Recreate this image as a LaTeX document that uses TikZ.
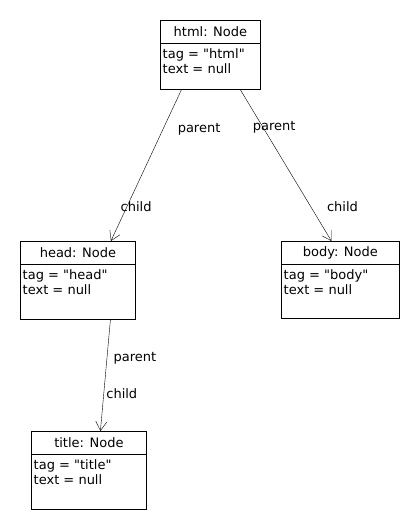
\documentclass[tikz,border=0pt]{standalone}
\usepackage{fontspec}
\setmainfont{DejaVu Sans}[Ligatures=TeXOff]
\usetikzlibrary{arrows.meta,positioning}

\begin{document}
\begin{tikzpicture}[x=1pt, y=-1pt,
  font=\fontsize{13}{14.5}\selectfont,
  objbox/.style={draw, line width=0.8pt, anchor=north west, inner sep=0pt},
  objhead/.style={draw, line width=0.8pt, minimum height=23pt,
                  anchor=north, inner sep=0pt},
  objattr/.style={anchor=north west, align=left, inner xsep=2.5pt,
                  inner ysep=5pt},
  lbl/.style={inner sep=1pt},
  >={Straight Barb[length=9pt,width=11pt]}]
\useasboundingbox (0,0) rectangle (420,530);
% objects
\node[objbox, minimum width=100pt, minimum height=69pt] (html) at (160,20) {};
\node[objhead, minimum width=100pt] (html-head) at (html.north) {html: Node};
\node[objattr] (html-attr) at (html-head.south west) {tag = "html"\\text = null};

\node[objbox, minimum width=115pt, minimum height=78pt] (head) at (20,241) {};
\node[objhead, minimum width=115pt] (head-head) at (head.north) {head: Node};
\node[objattr] (head-attr) at (head-head.south west) {tag = "head"\\text = null};

\node[objbox, minimum width=118pt, minimum height=77pt] (body) at (281,241) {};
\node[objhead, minimum width=118pt] (body-head) at (body.north) {body: Node};
\node[objattr] (body-attr) at (body-head.south west) {tag = "body"\\text = null};

\node[objbox, minimum width=115pt, minimum height=78pt] (title) at (31,431) {};
\node[objhead, minimum width=115pt] (title-head) at (title.north) {title: Node};
\node[objattr] (title-attr) at (title-head.south west) {tag = "title"\\text = null};
% links
\draw[->] ([xshift=-29pt]html.south) -- ([xshift=33pt]head.north)
  node[lbl, pos=0.26, xshift=36pt] {parent}
  node[lbl, pos=0.77, xshift=9pt] {child};
\draw[->] ([xshift=30pt]html.south) -- ([xshift=-9pt]body.north)
  node[lbl, pos=0.25, xshift=11pt] {parent}
  node[lbl, pos=0.77, xshift=32pt] {child};
\draw[->] ([xshift=32.5pt]head.south) -- ([xshift=11.5pt]title.north)
  node[lbl, pos=0.35, xshift=28pt] {parent}
  node[lbl, pos=0.66, xshift=18pt] {child};
\end{tikzpicture}
\end{document}
